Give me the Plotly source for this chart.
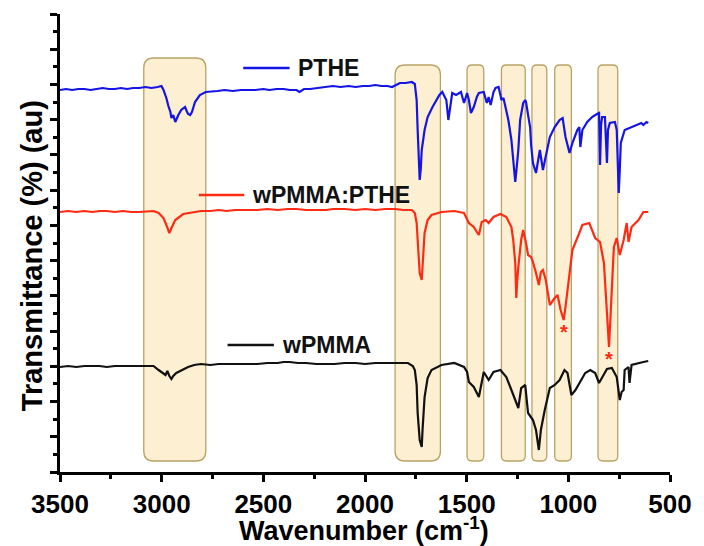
import plotly.graph_objects as go

# ---------------- data (wavenumber in cm-1, transmittance in arbitrary units) ----------------
pthe_wn = [3500, 3470, 3440, 3410, 3380, 3350, 3320, 3290, 3260, 3230, 3200, 3170, 3140, 3110, 3080, 3050, 3020,
           3001, 2991, 2977, 2967, 2957, 2952, 2943, 2933, 2928, 2918, 2904, 2894, 2885, 2875, 2870, 2860, 2851,
           2836, 2821, 2812, 2783, 2750, 2725, 2690, 2650, 2610, 2579, 2540, 2500, 2470, 2434, 2400, 2370, 2337,
           2322, 2300, 2270, 2240, 2200, 2158, 2120, 2080, 2046, 2010, 1980, 1949, 1920, 1890, 1867, 1850, 1828,
           1800, 1770, 1755, 1746, 1741, 1736, 1731, 1726, 1721, 1707, 1692, 1668, 1634, 1620, 1600, 1590, 1581,
           1571, 1552, 1528, 1513, 1498, 1489, 1479, 1465, 1450, 1440, 1416, 1401, 1392, 1382, 1368, 1358, 1343,
           1334, 1329, 1319, 1305, 1295, 1280, 1271, 1261, 1256, 1246, 1237, 1222, 1212, 1208, 1198, 1188, 1183,
           1174, 1159, 1149, 1140, 1125, 1111, 1091, 1067, 1043, 1028, 1014, 994, 980, 956, 946, 941, 931, 907,
           883, 859, 849, 844, 839, 834, 820, 810, 805, 796, 771, 762, 752, 747, 742, 723, 689, 665, 641, 631,
           616, 607]
pthe_t = [382, 383, 382, 383, 383, 382, 383, 384, 383, 383, 384, 383, 384, 384, 385, 384, 385,
          386, 382, 374, 366, 360, 354, 357, 350, 353, 357, 362, 364, 365, 360, 358, 357, 360,
          370, 375, 377, 380, 381, 381, 382, 381, 382, 382, 382, 383, 382, 383, 383, 382, 382,
          380, 383, 383, 384, 385, 386, 385, 386, 385, 386, 386, 387, 386, 386, 385, 387, 389,
          389, 390, 388, 372, 342, 307, 292, 302, 322, 342, 355, 365, 377, 380, 372, 352, 367,
          379, 377, 380, 369, 379, 372, 359, 365, 375, 379, 380, 369, 375, 367, 380, 384, 385,
          377, 372, 374, 360, 352, 332, 314, 290, 300, 322, 352, 369, 372, 370, 357, 345, 327,
          309, 299, 312, 322, 302, 315, 335, 345, 352, 354, 335, 319, 329, 342, 345, 325, 342, 350,
          355, 358, 359, 307, 347, 355, 355, 309, 342, 349, 350, 342, 279, 302, 329, 342, 345, 347, 349, 347,
          350, 349]

blend_wn = [3500, 3460, 3420, 3380, 3340, 3306, 3270, 3230, 3190, 3150, 3112, 3070, 3040, 3015, 2991, 2977,
            2967, 2962, 2952, 2933, 2894, 2807, 2760, 2720, 2680, 2640, 2579, 2530, 2480, 2430, 2380, 2337,
            2290, 2240, 2191, 2158, 2100, 2046, 2000, 1949, 1900, 1852, 1810, 1770, 1755, 1746, 1736, 1731,
            1721, 1717, 1707, 1692, 1673, 1624, 1561, 1537, 1513, 1489, 1465, 1450, 1440, 1426, 1406, 1392,
            1368, 1334, 1305, 1280, 1271, 1261, 1256, 1251, 1246, 1232, 1222, 1208, 1198, 1183, 1174, 1159,
            1145, 1135, 1125, 1111, 1091, 1067, 1053, 1038, 1023, 1014, 994, 980, 946, 931, 897, 883, 868,
            844, 825, 810, 800, 791, 776, 762, 747, 728, 713, 704, 689, 655, 631, 607]
blend_t = [260, 261, 260, 261, 260, 261, 261, 260, 261, 260, 260, 261, 261, 259, 254, 247,
           240, 239, 244, 252, 258, 261, 261, 262, 261, 262, 262, 262, 263, 262, 263, 263,
           262, 262, 262, 263, 263, 262, 263, 262, 263, 263, 262, 262, 259, 249, 217, 199,
           192, 207, 239, 252, 257, 260, 261, 260, 259, 249, 245, 240, 237, 250, 252, 249,
           255, 258, 255, 245, 232, 209, 174, 192, 205, 232, 242, 229, 217, 215, 210, 199,
           187, 200, 202, 192, 167, 174, 177, 162, 152, 165, 202, 222, 239, 247, 249, 242, 234,
           230, 209, 159, 125, 162, 225, 234, 217, 232, 249, 230, 245, 252, 260, 260]

pmma_wn = [3500, 3460, 3420, 3380, 3340, 3306, 3270, 3230, 3190, 3150, 3112, 3070, 3040, 3015, 2991, 2981,
           2972, 2962, 2952, 2943, 2928, 2894, 2870, 2840, 2807, 2760, 2720, 2680, 2640, 2579, 2530, 2480,
           2430, 2400, 2371, 2330, 2290, 2240, 2191, 2150, 2100, 2046, 2000, 1950, 1900, 1867, 1830, 1789,
           1765, 1755, 1746, 1741, 1731, 1721, 1717, 1707, 1692, 1673, 1624, 1561, 1513, 1498, 1489, 1465,
           1440, 1426, 1416, 1392, 1368, 1334, 1305, 1280, 1256, 1246, 1232, 1212, 1198, 1174, 1159, 1149,
           1145, 1135, 1116, 1091, 1067, 1043, 1019, 1004, 985, 965, 941, 917, 892, 868, 849, 834, 810,
           786, 762, 747, 738, 728, 723, 704, 699, 689, 655, 631, 607]
pmma_t = [105, 106, 105, 106, 106, 106, 105, 106, 106, 106, 106, 106, 106, 102, 98, 97,
          101, 96, 93, 96, 99, 103, 105, 107, 108, 107, 108, 108, 108, 108, 108, 109,
          109, 110, 110, 109, 109, 108, 108, 108, 109, 109, 108, 109, 109, 109, 109, 109,
          106, 102, 87, 59, 32, 25, 42, 75, 94, 102, 107, 109, 105, 100, 90, 85,
          75, 92, 100, 92, 100, 102, 95, 82, 70, 64, 84, 87, 59, 52, 42, 27,
          22, 42, 62, 84, 87, 92, 102, 99, 77, 82, 90, 99, 102, 99, 89, 95, 103,
          104, 95, 72, 80, 82, 102, 105, 89, 107, 109, 110, 111]

# highlighted bands (cm-1)
band_hi = [3088, 1852, 1498, 1329, 1179, 1067, 854]
band_lo = [2783, 1629, 1416, 1212, 1106, 985, 757]

# starred peaks in the blend spectrum
star_wn = [1019, 800]
star_t = [144, 117]

series_names = ["PTHE", "wPMMA:PTHE", "wPMMA"]
series_colors = ["#1414E6", "#FF2A12", "#111111"]
legend_x0 = [2599, 2817, 2676]
legend_x1 = [2371, 2594, 2448]
legend_y = [404, 277, 127]

# ---------------- figure ----------------
PX_X = 3000 / 619.0  # cm-1 per pixel
FONT = "Liberation Sans, Arial"
fig = go.Figure()

def rrect(xa, xb, y0, y1, r):
    rx = r * PX_X
    ry = r
    x0, x1 = max(xa, xb), min(xa, xb)  # x0 is left (higher wavenumber)
    return (f"M {x0 - rx},{y1} L {x1 + rx},{y1} Q {x1},{y1} {x1},{y1 - ry} "
            f"L {x1},{y0 + ry} Q {x1},{y0} {x1 + rx},{y0} L {x0 - rx},{y0} "
            f"Q {x0},{y0} {x0},{y0 + ry} L {x0},{y1 - ry} Q {x0},{y1} {x0 - rx},{y1} Z")

shapes = []
for i, (a, b) in enumerate(zip(band_hi, band_lo)):
    top = 414 if i == 0 else 407
    r = 10 if i <= 1 else 5
    shapes.append(dict(type="path", xref="x", yref="y", path=rrect(a, b, 11, top, r),
                       fillcolor="#FCEFD2", line=dict(color="#B9A266", width=1.3), layer="below"))

for x0, x1, y, c in zip(legend_x0, legend_x1, legend_y, series_colors):
    shapes.append(dict(type="line", xref="x", yref="y", x0=x0, x1=x1, y0=y, y1=y,
                       line=dict(color=c, width=2.5)))

for wn, t, c, n in zip([pthe_wn, blend_wn, pmma_wn], [pthe_t, blend_t, pmma_t], series_colors, series_names):
    fig.add_trace(go.Scatter(x=wn, y=t, mode="lines", name=n,
                             line=dict(color=c, width=2.2), showlegend=False))

annotations = []
for x1, y, n in zip(legend_x1, legend_y, series_names):
    annotations.append(dict(x=x1, y=y, xref="x", yref="y", text=n, showarrow=False,
                            xanchor="left", yanchor="middle", xshift=6,
                            font=dict(family=FONT, size=23, color="#111111", weight="bold")))
for x, y in zip(star_wn, star_t):
    annotations.append(dict(x=x, y=y, xref="x", yref="y", text="*", showarrow=False,
                            xanchor="center", yanchor="middle", yshift=-4,
                            font=dict(family=FONT, size=20, color="#FF2A12", weight="bold")))

annotations.append(dict(x=0.4976, y=-0.163, xref="paper", yref="paper",
                        text="Wavenumber (cm<sup>-1</sup>)", showarrow=False,
                        xanchor="center", yanchor="bottom", borderpad=0,
                        font=dict(family=FONT, size=27, color="#000000", weight="bold")))
annotations.append(dict(x=-0.047, y=0.472, xref="paper", yref="paper",
                        text="Transmittance (%) (au)", showarrow=False, textangle=-90,
                        xanchor="center", yanchor="middle",
                        font=dict(family=FONT, size=29, color="#000000", weight="bold")))

fig.update_layout(
    width=704, height=546,
    margin=dict(l=60, r=25, t=14, b=74),
    paper_bgcolor="white", plot_bgcolor="white",
    shapes=shapes, annotations=annotations,
    xaxis=dict(range=[3500, 500], showgrid=False, zeroline=False,
               showline=True, linecolor="black", linewidth=3,
               ticks="outside", ticklen=7, tickwidth=2.5, tickcolor="black",
               tick0=500, dtick=500,
               minor=dict(ticks="outside", ticklen=4, tickwidth=2.5, tickcolor="black", dtick=250, showgrid=False),
               tickfont=dict(family=FONT, size=26, color="black", weight="bold")),
    yaxis=dict(range=[0, 458], showgrid=False, zeroline=False,
               showline=True, linecolor="black", linewidth=3,
               ticks="outside", ticklen=7, tickwidth=2.5, tickcolor="black",
               tick0=0, dtick=458 / 13.0, showticklabels=False,
               minor=dict(ticks="outside", ticklen=4, tickwidth=2.5, tickcolor="black", dtick=458 / 26.0, showgrid=False)),
)

fig.write_html("out.html")
